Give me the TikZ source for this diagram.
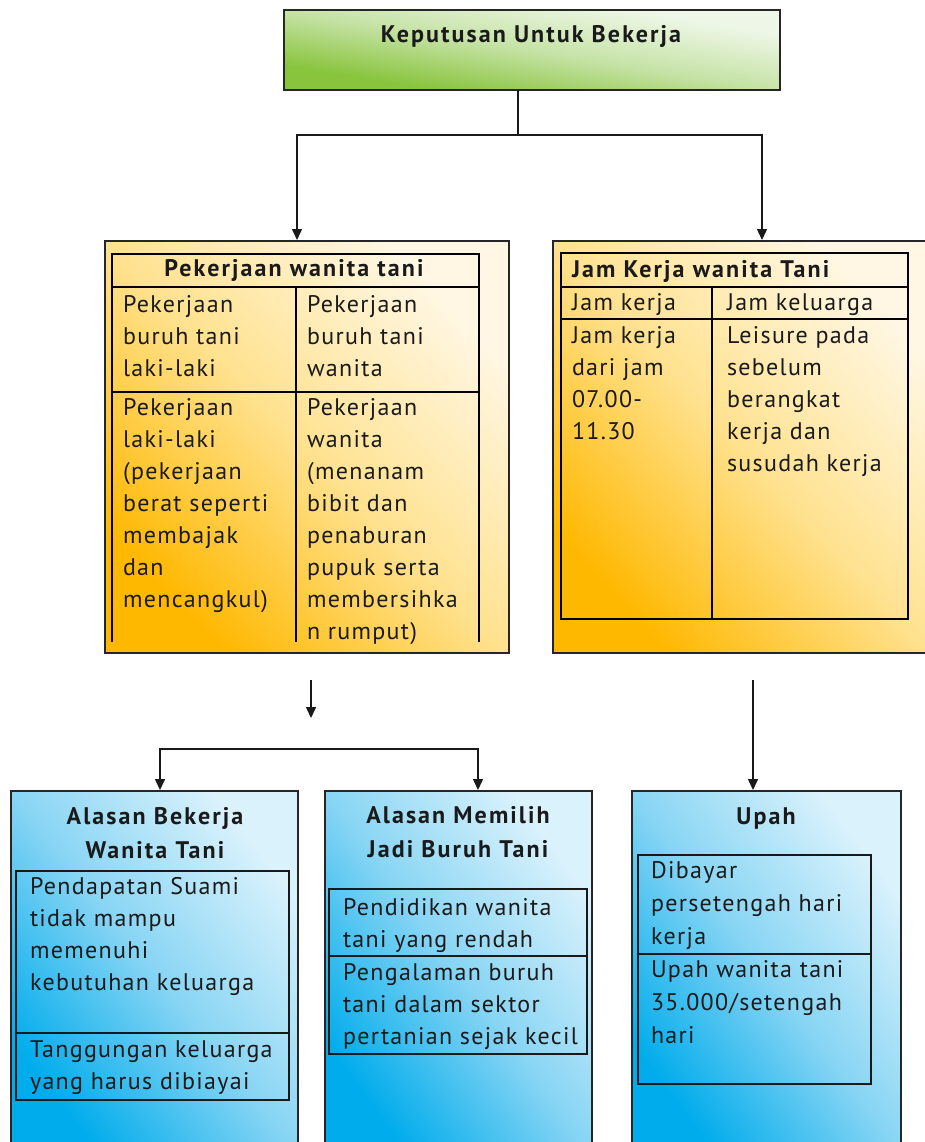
\documentclass[tikz,border=0pt]{standalone}
\usepackage{fontspec}
\setmainfont{PT Sans}[LetterSpace=5.5, BoldFeatures={LetterSpace=8.7}]
\usetikzlibrary{arrows.meta}
\definecolor{txt}{HTML}{1A1A1A}
\definecolor{gTop}{HTML}{EEF7E7}
\definecolor{gMid}{HTML}{C6E3A6}
\definecolor{gBot}{HTML}{88C43C}
\definecolor{yTop}{HTML}{FFF7E4}
\definecolor{yMid}{HTML}{FFE290}
\definecolor{yBot}{HTML}{FFB800}
\definecolor{bTop}{HTML}{DAF2FC}
\definecolor{bMid}{HTML}{88D5F4}
\definecolor{bBot}{HTML}{00ACEC}
\newcommand\lcell[1]{\begin{tabular}[t]{@{}l@{}}#1\end{tabular}}
\newcommand\ccell[1]{\begin{tabular}[t]{@{}c@{}}#1\end{tabular}}
% gradient fill normalised to the box: x y w h style
\newcommand\gradfill[5]{%
  \fill[#5, transform canvas={shift={(#1,#2)}, xscale=#3/10, yscale=#4/10}] (0,0) rectangle (10,10);}
\tikzset{
  every node/.style={inner sep=0pt, outer sep=0pt, text=txt},
  body/.style={font=\fontsize{24}{32}\selectfont, anchor=base west},
  bodyb/.style={font=\fontsize{24}{33}\selectfont, anchor=base west},
  head/.style={font=\bfseries\fontsize{24}{34}\selectfont},
  boxline/.style={draw=black!85, line width=1.6pt, anchor=north west},
  gshade/.style={top color=gTop, bottom color=gBot, middle color=gMid, shading angle=-45},
  yshade/.style={top color=yTop, bottom color=yBot, middle color=yMid, shading angle=-45},
  bshade/.style={top color=bTop, bottom color=bBot, middle color=bMid, shading angle=-45},
  rule/.style={line width=1.5pt, draw=black},
  thinrule/.style={line width=1.4pt, draw=black!90},
  arr/.style={line width=1.5pt, draw=black!90, -{Triangle[width=10pt,length=11pt]}},
  arr2/.style={line width=1.5pt, draw=black!90, {Triangle[width=10pt,length=11pt]}-{Triangle[width=10pt,length=11pt]}}
}
\begin{document}
\begin{tikzpicture}[x=1pt,y=-1pt]
\useasboundingbox (0,0) rectangle (925,1142);
\clip (0,0) rectangle (925,1142);
% ---------- gradient fills
\gradfill{284}{10}{496}{80}{gshade}
\gradfill{105}{241}{404}{412}{yshade}
\gradfill{553}{241}{380}{412}{yshade}
\gradfill{11}{791}{287}{360}{bshade}
\gradfill{325}{791}{267}{360}{bshade}
\gradfill{632}{791}{269}{360}{bshade}
% ---------- top box
\node[boxline, minimum width=496, minimum height=80] (top) at (284,10) {};
\node[head, anchor=base] (toptxt) at (531,43) {Keputusan Untuk Bekerja};
% ---------- connectors top
\coordinate (tj) at (518,90);
\coordinate (tjm) at (518,135);
\coordinate (pkin) at (297,240);
\coordinate (jkin) at (762,240);
% ---------- yellow boxes
\node[boxline, minimum width=404, minimum height=412] (pk) at (105,241) {};
\node[boxline, minimum width=380, minimum height=412] (jk) at (553,241) {};
\draw[arr] (tj) -- (tjm) -| (pkin);
\draw[arr] (tjm) -| (jkin);
% left table
\draw[rule] (112,254) rectangle (479,287);
\draw[rule] (112,287) -- (112,642);
\draw[rule] (479,287) -- (479,642);
\draw[rule] (296,287) -- (296,642);
\draw[rule] (112,392) -- (479,392);
\node[head, anchor=base] (pkh) at (294,276) {Pekerjaan wanita tani};
\node[body] (pc1) at (123,312) {\lcell{Pekerjaan\\buruh tani\\laki-laki}};
\node[body] (pc2) at (307,312) {\lcell{Pekerjaan\\buruh tani\\wanita}};
\node[body] (pc3) at (123,415) {\lcell{Pekerjaan\\laki-laki\\(pekerjaan\\berat seperti\\membajak\\dan\\mencangkul)}};
\begin{scope}
\clip (296,392) rectangle (479,643);
\node[body] (pc4) at (307,415) {\lcell{Pekerjaan\\wanita\\(menanam\\bibit dan\\penaburan\\pupuk serta\\membersihka\\n rumput)}};
\end{scope}
% right table
\draw[rule] (561,253) rectangle (908,619);
\draw[rule] (561,287) -- (908,287);
\draw[rule] (561,319) -- (908,319);
\draw[rule] (712,287) -- (712,619);
\node[head, anchor=base west] (jkh) at (572,277) {Jam Kerja wanita Tani};
\node[body] (jc1) at (572,310) {Jam kerja};
\node[body] (jc2) at (727,310) {Jam keluarga};
\node[body] (jc3) at (572,343) {\lcell{Jam kerja\\dari jam\\07.00-\\11.30}};
\node[body] (jc4) at (727,343) {\lcell{Leisure pada\\sebelum\\berangkat\\kerja dan\\susudah kerja}};
% ---------- middle connectors
\coordinate (m1) at (311,680);
\coordinate (m2) at (311,718);
\draw[arr] (m1) -- (m2);
\coordinate (b1in) at (160,790);
\coordinate (bk) at (478,749);
\coordinate (b2in) at (478,790);
\draw[arr2] (b1in) |- (bk) -- (b2in);
\coordinate (r1) at (753,680);
\coordinate (b3in) at (753,790);
\draw[arr] (r1) -- (b3in);
% ---------- blue boxes
\node[boxline, minimum width=287, minimum height=360] (b1) at (11,791) {};
\node[boxline, minimum width=267, minimum height=360] (b2) at (325,791) {};
\node[boxline, minimum width=269, minimum height=360] (b3) at (632,791) {};
% box 1
\node[head, anchor=base] (b1h) at (155,824) {\ccell{Alasan Bekerja\\Wanita Tani}};
\draw[thinrule] (16,871) rectangle (289,1100);
\draw[thinrule] (16,1033) -- (289,1033);
\node[body] (b1t1) at (30,894) {\lcell{Pendapatan Suami\\tidak mampu\\memenuhi\\kebutuhan keluarga}};
\node[body] (b1t2) at (30,1057) {\lcell{Tanggungan keluarga\\yang harus dibiayai}};
% box 2
\node[head, anchor=base] (b2h) at (458,823) {\ccell{Alasan Memilih\\Jadi Buruh Tani}};
\draw[thinrule] (329,889) rectangle (587,1054);
\draw[thinrule] (329,956) -- (587,956);
\node[body] (b2t1) at (343,915) {\lcell{Pendidikan wanita\\tani yang rendah}};
\node[body] (b2t2) at (343,980) {\lcell{Pengalaman buruh\\tani dalam sektor\\pertanian sejak kecil}};
% box 3
\node[head, anchor=base] (b3h) at (766,824) {Upah};
\draw[thinrule] (638,855) rectangle (871,1084);
\draw[thinrule] (638,954) -- (871,954);
\node[bodyb] (b3t1) at (651,878) {\lcell{Dibayar\\persetengah hari\\kerja}};
\node[bodyb] (b3t2) at (651,977) {\lcell{Upah wanita tani\\35.000/setengah\\hari}};
\end{tikzpicture}
\end{document}
